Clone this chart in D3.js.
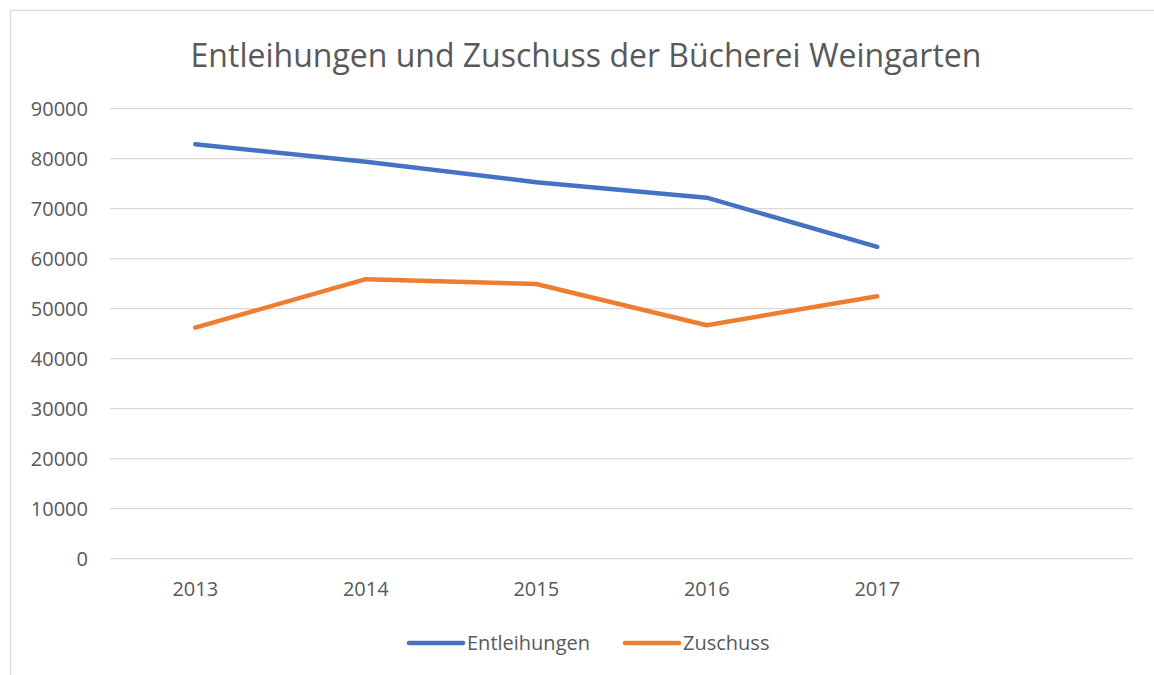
<!DOCTYPE html>
<html lang="de">
<head>
<meta charset="UTF-8">
<title>Entleihungen und Zuschuss der Bücherei Weingarten</title>
<script src="https://d3js.org/d3.v7.min.js"></script>
<style>
    body { margin: 0; background: #fff; }
    svg { display: block; font-family: "Open Sans", "Noto Sans", sans-serif; }
    .grid line { stroke: #d9d9d9; stroke-width: 1.3px; }
    .axis text { fill: #595959; font-size: 20px; font-family: "Open Sans", "Noto Sans", sans-serif; }
    .line { fill: none; stroke-width: 4.5px; stroke-linecap: round; stroke-linejoin: round; }
</style>
</head>
<body>
<svg id="chart" width="1154" height="675"></svg>
<script>
// chart data
const years = ["2013", "2014", "2015", "2016", "2017", ""];
const entleihungen = [82900, 79400, 75300, 72200, 62350];
const zuschuss = [46200, 55900, 54950, 46700, 52500];
const yTicks = [0, 10000, 20000, 30000, 40000, 50000, 60000, 70000, 80000, 90000];
const seriesNames = ["Entleihungen", "Zuschuss"];
const colors = ["#4472c4", "#ed7d31"];

const svg = d3.select("#chart");

// outer chart frame (cut off at right and bottom like the screenshot)
svg.append("rect")
    .attr("x", 10.5).attr("y", 10.5)
    .attr("width", 1160).attr("height", 700)
    .attr("fill", "none")
    .attr("stroke", "#d9d9d9")
    .attr("stroke-width", 1.3);

const plot = { left: 110, right: 1133, top: 108.7, bottom: 558.7 };

const x = d3.scaleBand()
    .domain(years)
    .range([plot.left, plot.right]);

const y = d3.scaleLinear()
    .domain([0, 90000])
    .range([plot.bottom, plot.top]);

// gridlines
svg.append("g")
    .attr("class", "grid")
    .selectAll("line")
    .data(yTicks)
    .enter().append("line")
    .attr("x1", plot.left).attr("x2", plot.right)
    .attr("y1", d => y(d)).attr("y2", d => y(d));

// y axis labels
const yAxis = svg.append("g")
    .attr("class", "axis")
    .attr("transform", `translate(${plot.left - 22},0)`)
    .call(d3.axisLeft(y).tickValues(yTicks).tickSize(0).tickPadding(0).tickFormat(d3.format("d")));
yAxis.select(".domain").remove();

// x axis labels
const xAxis = svg.append("g")
    .attr("class", "axis")
    .attr("transform", `translate(0,${plot.bottom + 23})`)
    .call(d3.axisBottom(x).tickSize(0).tickPadding(0));
xAxis.select(".domain").remove();
xAxis.selectAll("text").attr("dy", "0.71em");

// title
svg.append("text")
    .attr("x", 586)
    .attr("y", 67)
    .attr("text-anchor", "middle")
    .attr("fill", "#595959")
    .attr("font-size", 32)
    .text("Entleihungen und Zuschuss der Bücherei Weingarten");

// lines
const line = d3.line()
    .x((d, i) => x(years[i]) + x.bandwidth() / 2)
    .y(d => y(d));

[entleihungen, zuschuss].forEach((values, i) => {
    svg.append("path")
        .datum(values)
        .attr("class", "line")
        .attr("stroke", colors[i])
        .attr("d", line);
});

// legend
const legendX = [409, 625];
seriesNames.forEach((name, i) => {
    const g = svg.append("g").attr("transform", `translate(${legendX[i]},643)`);
    g.append("line")
        .attr("x1", 0).attr("x2", 54)
        .attr("stroke", colors[i])
        .attr("stroke-width", 4.5)
        .attr("stroke-linecap", "round");
    g.append("text")
        .attr("x", 58)
        .attr("dy", "0.35em")
        .attr("fill", "#595959")
        .attr("font-size", 20)
        .text(name);
});
</script>
</body>
</html>
